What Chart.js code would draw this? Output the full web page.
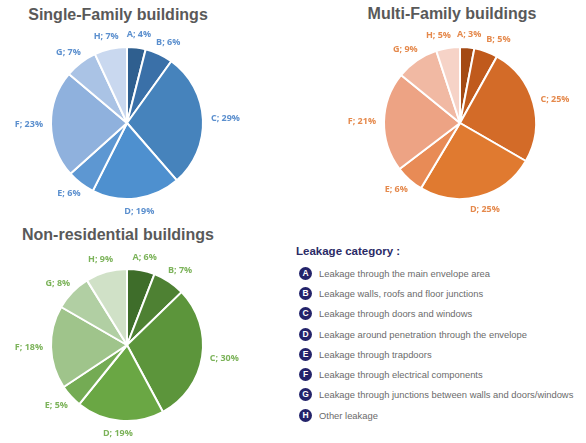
<!DOCTYPE html>
<html lang="en">
<head>
  <meta charset="UTF-8" />
  <title>Leakage categories</title>
  <script src="https://cdn.jsdelivr.net/npm/chart.js"></script>
  <style>
    body {
      margin: 0;
      background: #fff;
      width: 586px;
      height: 443px;
      position: relative;
      overflow: hidden;
      font-family: 'Liberation Sans', Arial, sans-serif;
    }
    canvas { position: absolute; }
    .titulo {
      position: absolute;
      font-weight: bold;
      font-size: 16px;
      color: #595959;
      white-space: nowrap;
      transform: translateX(-50%);
    }
    .leyenda {
      position: absolute;
      left: 296px;
      top: 245px;
      font-size: 9.4px;
      color: #6b6b6b;
    }
    .leyenda h4 {
      margin: 0 0 6px 0;
      font-size: 11.5px;
      color: #2b2b66;
    }
    .item {
      display: flex;
      align-items: center;
      height: 20.3px;
      white-space: nowrap;
    }
    .circulo {
      width: 13px;
      height: 13px;
      border-radius: 50%;
      background: #23236a;
      color: #fff;
      font-weight: bold;
      font-size: 8.5px;
      line-height: 13px;
      text-align: center;
      margin-left: 3px;
      margin-right: 7px;
    }
  </style>
</head>
<body>

<div class="titulo" style="left:118px; top:6px;">Single-Family buildings</div>
<div class="titulo" style="left:452px; top:5px;">Multi-Family buildings</div>
<div class="titulo" style="left:118px; top:226px;">Non-residential buildings</div>

<canvas id="pieSingle" width="250" height="200" style="left:2px; top:23px;"></canvas>
<canvas id="pieMulti" width="250" height="200" style="left:335px; top:23px;"></canvas>
<canvas id="pieNonRes" width="250" height="200" style="left:2px; top:245px;"></canvas>

<div class="leyenda" id="leyenda">
  <h4>Leakage category :</h4>
</div>

<script>
  const categories = ['A', 'B', 'C', 'D', 'E', 'F', 'G', 'H'];
  const singleFamily = [4, 6, 29, 19, 6, 23, 7, 7];
  const multiFamily = [3, 5, 25, 25, 6, 21, 9, 5];
  const nonResidential = [6, 7, 30, 19, 5, 18, 8, 9];
  const legendLabels = [
    'Leakage through the main envelope area',
    'Leakage walls, roofs and floor junctions',
    'Leakage through doors and windows',
    'Leakage around penetration through the envelope',
    'Leakage through trapdoors',
    'Leakage through electrical components',
    'Leakage through junctions between walls and doors/windows',
    'Other leakage'
  ];

  const azules = ['#2f5f8f', '#3a70a8', '#4683bc', '#4e90cf', '#5d97d2', '#8fb1dd', '#aac3e5', '#c9d8ef'];
  const naranjas = ['#a44a14', '#c05a1c', '#d36b28', '#e07a30', '#e88b56', '#eda384', '#f1b9a3', '#f6d3c7'];
  const verdes = ['#3e6d2a', '#4e8133', '#5c953b', '#6aa744', '#74ab54', '#9fc48b', '#b1cfa3', '#d0e1c7'];

  // etiquetas "A; 4%" fuera de cada sector
  const etiquetasPlugin = {
    id: 'etiquetas',
    afterDatasetsDraw(chart, args, opts) {
      const ctx = chart.ctx;
      const meta = chart.getDatasetMeta(0);
      const data = chart.data.datasets[0].data;
      ctx.save();
      ctx.font = 'bold 9px "Open Sans", sans-serif';
      ctx.fillStyle = opts.color;
      ctx.textAlign = 'center';
      ctx.textBaseline = 'middle';
      const h = 10;
      const cajas = meta.data.map((arc, i) => {
        const p = arc.getProps(['x', 'y', 'startAngle', 'endAngle', 'outerRadius'], true);
        const mid = (p.startAngle + p.endAngle) / 2;
        const dx = Math.cos(mid), dy = Math.sin(mid);
        const texto = chart.data.labels[i] + '; ' + data[i] + '%';
        const w = ctx.measureText(texto).width;
        const r = p.outerRadius + 8;
        return { texto, w, x: p.x + dx * r + dx * w / 2, y: p.y + dy * r + dy * h / 2 };
      });
      // si la última (H) pisa a la primera (A), se corre H a la izquierda
      const a = cajas[0], z = cajas[cajas.length - 1];
      const solape = (z.x + z.w / 2 + 6) - (a.x - a.w / 2);
      if (solape > 0 && Math.abs(a.y - z.y) < h) {
        z.x -= solape;
      }
      // y si B pisa a A, se corre B a la derecha
      for (let i = 1; i < cajas.length; i++) {
        const prev = cajas[i - 1], c = cajas[i];
        const s = (prev.x + prev.w / 2 + 5) - (c.x - c.w / 2);
        if (s > 0 && Math.abs(prev.y - c.y) < h && c.x > prev.x) c.x += s;
      }
      cajas.forEach(c => ctx.fillText(c.texto, c.x, c.y));
      ctx.restore();
    }
  };

  function crearPie(id, valores, colores, colorTexto) {
    return new Chart(document.getElementById(id).getContext('2d'), {
      type: 'pie',
      data: {
        labels: categories,
        datasets: [{
          data: valores,
          backgroundColor: colores,
          borderColor: '#ffffff',
          borderWidth: 2,
          hoverOffset: 0
        }]
      },
      options: {
        responsive: false,
        animation: false,
        layout: { padding: { left: 48, right: 48, top: 23, bottom: 23 } },
        plugins: {
          legend: { display: false },
          tooltip: { enabled: false },
          etiquetas: { color: colorTexto }
        }
      },
      plugins: [etiquetasPlugin]
    });
  }

  crearPie('pieSingle', singleFamily, azules, '#5b8fce');
  crearPie('pieMulti', multiFamily, naranjas, '#e5894c');
  crearPie('pieNonRes', nonResidential, verdes, '#7cb35a');

  // Leyenda
  const leyenda = document.getElementById('leyenda');
  categories.forEach((c, i) => {
    const fila = document.createElement('div');
    fila.className = 'item';
    fila.innerHTML = '<span class="circulo">' + c + '</span><span>' + legendLabels[i] + '</span>';
    leyenda.appendChild(fila);
  });
</script>

</body>
</html>
